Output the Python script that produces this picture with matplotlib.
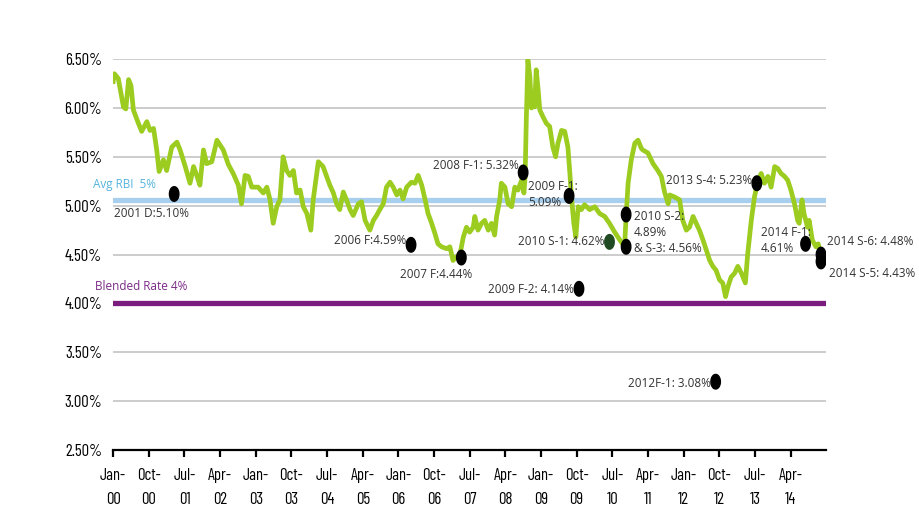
import matplotlib
matplotlib.use("Agg")
import matplotlib.pyplot as plt
import numpy as np
from matplotlib.path import Path

# Data (x = months since Jan-2000)
months = [0, 0.3, 1.3, 2.6, 3.2, 3.9, 4.5, 5.1, 6.4, 7.2, 8.5, 9.3, 10.2, 11.0, 11.6,
          12.7, 13.5, 14.8, 16.1, 16.9, 18.2, 19.4, 20.3, 21.1, 21.9, 22.8, 23.6, 24.9,
          26.2, 27.0, 27.8, 29.1, 30.3, 31.6, 32.4, 33.3, 34.1, 35.0, 36.6, 37.9, 38.8,
          39.6, 40.4, 41.3, 42.1, 42.9, 43.8, 44.6, 45.5, 46.3, 47.2, 48.0, 48.9, 49.9,
          50.5, 51.8, 53.0, 53.9, 54.7, 55.6, 56.4, 57.2, 58.1, 58.9, 59.8, 60.6, 61.9,
          62.7, 63.6, 64.8, 65.7, 66.5, 67.3, 68.2, 69.0, 69.9, 70.7, 71.6, 72.4, 73.2,
          74.1, 75.3, 76.2, 77.0, 77.9, 78.7, 79.5, 80.4, 81.2, 82.0, 82.9, 84.2, 85.0,
          85.8, 86.7, 87.5, 88.4, 89.2, 90.0, 90.9, 91.3, 92.1, 93.0, 93.8, 94.7, 95.5,
          96.3, 96.8, 97.6, 98.0, 98.9, 99.7, 100.6, 101.4, 102.2, 103.1, 103.7, 104.0,
          104.3, 104.7, 105.2, 105.6, 106.0, 106.4, 106.8, 107.3, 107.7, 108.5, 109.4,
          110.2, 111.0, 111.7, 112.3, 113.2, 114.0, 114.8, 115.3, 115.7, 116.3, 116.8,
          117.4, 118.2, 119.0, 120.3, 121.6, 122.8, 124.1, 125.3, 126.6, 127.9, 129.1,
          129.5, 130.0, 130.8, 131.7, 132.5, 133.3, 133.7, 135.0, 136.3, 137.5, 138.4,
          139.2, 140.1, 140.5, 141.7, 143.0, 143.8, 144.7, 145.5, 146.4, 147.2, 148.0,
          148.9, 149.7, 150.6, 151.4, 152.2, 153.1, 153.9, 154.6, 155.2, 156.0, 156.9,
          157.7, 158.6, 159.6, 160.2, 161.1, 161.9, 162.8, 163.6, 164.4, 165.3, 166.1,
          167.0, 167.8, 168.6, 169.5, 170.3, 171.1, 172.0, 172.8, 173.2, 173.9, 174.4,
          175.3, 175.7, 176.5, 177.4, 178.0, 178.9]
rates = [6.27, 6.35, 6.30, 6.01, 5.99, 6.29, 6.23, 5.98, 5.84, 5.76, 5.86, 5.77, 5.79, 5.57, 5.35,
         5.47, 5.36, 5.60, 5.65, 5.57, 5.40, 5.23, 5.40, 5.31, 5.21, 5.57, 5.43, 5.45,
         5.67, 5.62, 5.57, 5.42, 5.33, 5.21, 5.02, 5.31, 5.30, 5.19, 5.19, 5.13, 5.19,
         5.06, 4.82, 4.99, 5.06, 5.50, 5.36, 5.31, 5.36, 5.13, 5.16, 4.99, 4.92, 4.75,
         5.06, 5.45, 5.40, 5.30, 5.21, 5.13, 5.02, 4.96, 5.14, 5.06, 4.96, 4.90, 5.02,
         5.04, 4.85, 4.75, 4.85, 4.90, 4.96, 5.02, 5.19, 5.24, 5.19, 5.11, 5.16, 5.07,
         5.19, 5.24, 5.23, 5.31, 5.21, 5.07, 4.92, 4.82, 4.72, 4.61, 4.58, 4.56, 4.58,
         4.44, 4.48, 4.49, 4.68, 4.78, 4.73, 4.78, 4.89, 4.75, 4.82, 4.85, 4.75, 4.82,
         4.70, 4.89, 5.06, 5.23, 5.19, 5.02, 4.99, 5.19, 5.16, 5.26, 5.13, 5.30,
         5.88, 6.49, 6.32, 6.00, 6.05, 6.01, 6.39, 6.18, 5.98, 5.91, 5.84,
         5.81, 5.60, 5.50, 5.64, 5.77, 5.76, 5.60, 5.33, 5.09, 4.82, 4.68,
         4.99, 4.96, 5.01, 4.96, 4.99, 4.92, 4.89, 4.82, 4.73, 4.65, 4.58,
         4.89, 5.23, 5.47, 5.64, 5.67, 5.59, 5.57, 5.54, 5.43, 5.36, 5.30,
         5.14, 5.02, 5.11, 5.09, 5.06, 4.85, 4.75, 4.78, 4.89, 4.82, 4.75,
         4.65, 4.55, 4.44, 4.38, 4.34, 4.24, 4.21, 4.07, 4.17, 4.27, 4.31,
         4.38, 4.31, 4.21, 4.51, 4.85, 5.09, 5.26, 5.33, 5.23, 5.30, 5.19,
         5.40, 5.38, 5.33, 5.30, 5.26, 5.16, 5.02, 4.85, 4.82, 5.06, 4.92,
         4.78, 4.85, 4.65, 4.58, 4.61, 4.46]

avg_rbi = 5.06
blended_rate = 4.0

# Issue markers
issue_months = [15.4, 75.2, 87.9, 103.5, 115.1, 117.6, 125.3, 129.5, 129.5, 152.1, 162.5, 174.8, 178.7, 178.7]
issue_rates = [5.12, 4.60, 4.47, 5.34, 5.10, 4.15, 4.63, 4.91, 4.58, 3.20, 5.23, 4.61, 4.50, 4.43]
issue_colors = ['black'] * 6 + ['#1f4a22'] + ['black'] * 7

tick_months = list(range(0, 172, 9))
tick_labels = ['Jan-\n00', 'Oct-\n00', 'Jul-\n01', 'Apr-\n02', 'Jan-\n03', 'Oct-\n03', 'Jul-\n04',
               'Apr-\n05', 'Jan-\n06', 'Oct-\n06', 'Jul-\n07', 'Apr-\n08', 'Jan-\n09', 'Oct-\n09',
               'Jul-\n10', 'Apr-\n11', 'Jan-\n12', 'Oct-\n12', 'Jul-\n13', 'Apr-\n14']
y_ticks = [2.5, 3.0, 3.5, 4.0, 4.5, 5.0, 5.5, 6.0, 6.5]

narrow = ['Barlow Condensed', 'Liberation Sans', 'DejaVu Sans']
label_font = ['Open Sans', 'DejaVu Sans']

fig = plt.figure(figsize=(9.2, 5.18), dpi=100)
ax = fig.add_axes([0.123, 0.131, 0.775, 0.755])

for y in y_ticks[1:]:
    ax.axhline(y, color='#c4c4c4', lw=1.2, zorder=1)

ax.axhline(avg_rbi, color='#a8d0ee', lw=3.8, zorder=2)
ax.axhline(blended_rate, color='#7a1c7d', lw=3.8, zorder=2)

ax.plot(months, rates, color='#9bcc1f', lw=3.4, solid_joinstyle='round', zorder=3)

# tall oval marker
t = np.linspace(0, 2 * np.pi, 40)
oval = Path(np.column_stack([0.65 * np.cos(t), np.sin(t)]))
ax.scatter(issue_months, issue_rates, marker=oval, s=110, c=issue_colors, zorder=4)

ax.set_xlim(0, 180)
ax.set_ylim(2.5, 6.5)
ax.set_yticks(y_ticks)
ax.set_yticklabels([f"{v:.2f}%" for v in y_ticks], family=narrow, fontsize=12)
ax.set_xticks(tick_months)
ax.set_xticklabels(tick_labels, family=narrow, fontsize=12, linespacing=1.75)
ax.tick_params(axis='y', length=0, pad=8)
ax.tick_params(axis='x', direction='out', length=5, width=1.6, color='black', pad=8)

for s in ['top', 'right', 'left']:
    ax.spines[s].set_visible(False)
ax.spines['bottom'].set_linewidth(1.6)
ax.spines['bottom'].set_color('black')

# line labels
ax.text(-5, 5.22, 'Avg RBI  5%', color='#55b4dd', fontsize=8.5, family=label_font, va='center')
ax.text(-4.5, 4.17, 'Blended Rate 4%', color='#7a2a86', fontsize=8.5, family=label_font, va='center')

txt = dict(color='#333333', fontsize=8.5, family=label_font, va='center')
ax.text(0.2, 4.92, '2001 D:5.10%', ha='left', **txt)
ax.text(74.0, 4.64, '2006 F:4.59%', ha='right', **txt)
ax.text(81.5, 4.30, '2007 F:4.44%', ha='center', **txt)
ax.text(102.3, 5.41, '2008 F-1: 5.32%', ha='right', **txt)
ax.text(104.7, 5.11, '2009 F-1:\n5.09%', ha='left', linespacing=1.3, **txt)
ax.text(116.2, 4.14, '2009 F-2: 4.14%', ha='right', **txt)
ax.text(124.1, 4.63, '2010 S-1: 4.62%', ha='right', **txt)
ax.text(131.5, 4.73, '2010 S-2:\n4.89%\n& S-3: 4.56%', ha='left', linespacing=1.3, **txt)
ax.text(150.8, 3.18, '2012F-1: 3.08%', ha='right', **txt)
ax.text(161.3, 5.26, '2013 S-4: 5.23%', ha='right', **txt)
ax.text(163.5, 4.64, '2014 F-1:\n4.61%', ha='left', linespacing=1.3, **txt)
ax.text(180.3, 4.63, '2014 S-6: 4.48%', ha='left', **txt)
ax.text(180.8, 4.31, '2014 S-5: 4.43%', ha='left', **txt)

fig.savefig('out.png', dpi=100)
